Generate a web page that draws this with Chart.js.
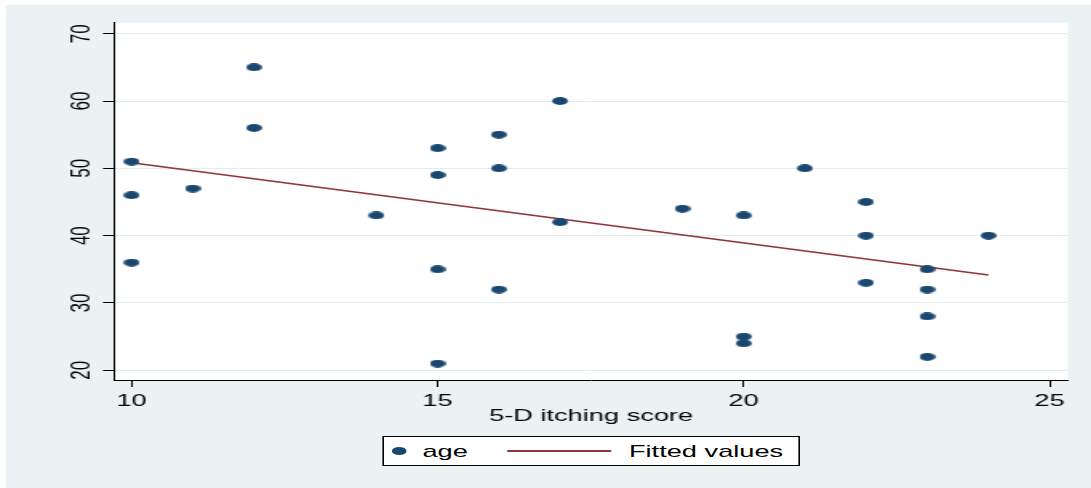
<!DOCTYPE html>
<html>
<head>
<meta charset="utf-8">
<script src="https://cdn.jsdelivr.net/npm/chart.js@4.4.1/dist/chart.umd.min.js"></script>
<style>
  html, body { margin: 0; padding: 0; background: #fff; }
  body { width: 1091px; height: 488px; position: relative; overflow: hidden; font-family: "Liberation Sans", Arial, sans-serif; }
  #frame { position: absolute; left: 6px; top: 5px; width: 1085px; height: 483px; background: #eaf2f3; }
  /* the reference is a Stata graph stretched sideways, so draw narrow and stretch */
  #stretch { position: absolute; left: 0; top: 0; width: 682px; height: 488px; transform: scaleX(1.6); transform-origin: 0 0; }
  #box { position: absolute; left: 0; top: 0; width: 682px; height: 488px; }
  #legend { position: absolute; left: 238.6px; top: 435.7px; width: 261.4px; height: 30.3px; box-sizing: border-box; border: 1px solid #000; background: #fff; }
  #legend .dot { position: absolute; left: 5.2px; top: 10.4px; width: 9.4px; height: 7.8px; border-radius: 50%; background: #1a476f; }
  #legend .ln { position: absolute; left: 77.9px; top: 13.55px; width: 64.4px; height: 1.5px; background: #90353b; }
  #legend .lab { position: absolute; top: 5.1px; font-size: 17px; line-height: 20px; color: #000; white-space: nowrap; }
</style>
</head>
<body>
<div id="frame"></div>
<div id="stretch">
  <div id="box"><canvas id="scatter"></canvas></div>
  <div id="legend">
    <span class="dot"></span><span class="lab" id="lab0" style="left:24.4px"></span>
    <span class="ln"></span><span class="lab" id="lab1" style="left:153.5px"></span>
  </div>
</div>
<script>
const itchScore = [10, 10, 10, 11, 12, 12, 14, 15, 15, 15, 15, 16, 16, 16, 17, 17, 19, 20, 20, 20, 21, 22, 22, 22, 23, 23, 23, 23, 24];
const age = [51, 46, 36, 47, 65, 56, 43, 53, 49, 35, 21, 55, 50, 32, 60, 42, 44, 43, 25, 24, 50, 45, 40, 33, 35, 32, 28, 22, 40];
const fitX = [10, 24];
const fitY = [50.84, 34.16];
const xTicks = [10, 15, 20, 25];
const yTicks = [20, 30, 40, 50, 60, 70];
const seriesNames = ['age', 'Fitted values'];
const xTitle = '5-D itching score';

const navy = '#1a476f';
const maroon = '#90353b';

Chart.defaults.font.family = '"Liberation Sans", Arial, sans-serif';
Chart.defaults.color = '#000';

// ellipse marker, so it ends up looking like the squashed Stata dots
const dot = document.createElement('canvas');
dot.width = 10;
dot.height = 8;
const dctx = dot.getContext('2d');
dctx.fillStyle = navy;
dctx.beginPath();
dctx.ellipse(5, 4, 4.9, 3.95, 0, 0, Math.PI * 2);
dctx.fill();

const plotBg = {
  id: 'plotBg',
  beforeDraw(chart) {
    const { ctx, chartArea: a } = chart;
    ctx.save();
    ctx.fillStyle = '#fff';
    ctx.fillRect(a.left, a.top, a.right - a.left, a.bottom - a.top);
    ctx.restore();
  }
};

const chart = new Chart('scatter', {
  type: 'scatter',
  data: {
    datasets: [{
      label: seriesNames[0],
      data: itchScore.map((x, i) => ({ x: x, y: age[i] })),
      pointStyle: dot,
      pointRadius: 4,
      backgroundColor: navy,
      borderColor: navy
    }, {
      label: seriesNames[1],
      type: 'line',
      data: fitX.map((x, i) => ({ x: x, y: fitY[i] })),
      borderColor: maroon,
      borderWidth: 1.5,
      pointRadius: 0,
      fill: false
    }]
  },
  options: {
    responsive: true,
    maintainAspectRatio: false,
    animation: false,
    layout: { padding: { left: 0, right: 14.5, top: 22.7, bottom: 58 } },
    scales: {
      x: {
        type: 'linear',
        min: 9.716,
        max: 25.299,
        afterBuildTicks: s => { s.ticks = xTicks.map(v => ({ value: v })); },
        afterFit: s => { s.height = 50; },
        grid: { drawOnChartArea: false, drawTicks: true, tickLength: 7, tickColor: '#000', tickWidth: 1 },
        border: { color: '#000', width: 1 },
        ticks: { font: { size: 17 }, padding: 4, maxRotation: 0, color: '#000' },
        title: { display: true, text: xTitle, font: { size: 17 }, color: '#000', padding: { top: 0, bottom: 3.8 } }
      },
      y: {
        type: 'linear',
        min: 18.56,
        max: 71.63,
        afterBuildTicks: s => { s.ticks = yTicks.map(v => ({ value: v })); },
        afterFit: s => { s.width = 71.4; },
        grid: { color: '#e3ecef', lineWidth: 1, drawTicks: true, tickLength: 7, tickColor: '#000', tickWidth: 1 },
        border: { color: '#000', width: 1 },
        ticks: { font: { size: 17 }, padding: 3.5, minRotation: 90, maxRotation: 90, crossAlign: 'center', color: '#000' }
      }
    },
    plugins: {
      legend: { display: false },
      tooltip: { enabled: false }
    }
  },
  plugins: [plotBg]
});

document.getElementById('lab0').textContent = chart.data.datasets[0].label;
document.getElementById('lab1').textContent = chart.data.datasets[1].label;
</script>
</body>
</html>
